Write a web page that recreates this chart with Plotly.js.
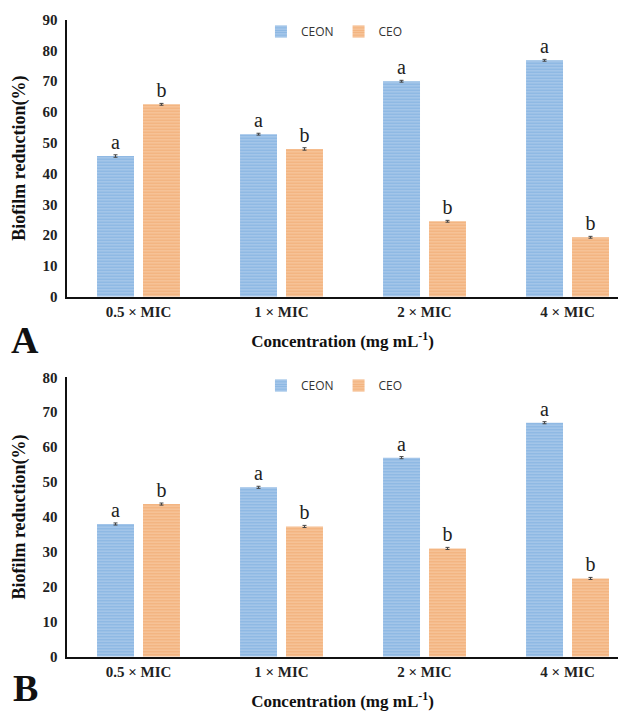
<!DOCTYPE html>
<html>
<head>
<meta charset="utf-8">
<script src="https://cdn.plot.ly/plotly-3.0.1.min.js"></script>
<style>html,body{margin:0;padding:0;background:#fff;}#chart{width:618px;height:713px;}</style>
</head>
<body>
<div id="chart"></div>
<script>
const categories = ["0.5 × MIC", "1 × MIC", "2 × MIC", "4 × MIC"];
const ceonA = [45.7, 52.8, 70.0, 76.8];
const ceoA  = [62.5, 48.0, 24.5, 19.3];
const ceonAErr = [0.4, 0.3, 0.3, 0.3];
const ceoAErr  = [0.3, 0.4, 0.3, 0.3];
const ceonB = [38.0, 48.5, 57.0, 67.0];
const ceoB  = [43.7, 37.3, 31.0, 22.4];
const ceonBErr = [0.3, 0.3, 0.3, 0.3];
const ceoBErr  = [0.3, 0.3, 0.3, 0.3];
const ceonLetters = ["a", "a", "a", "a"];
const ceoLetters  = ["b", "b", "b", "b"];

const serif = "Liberation Serif, Times New Roman, serif";
const blue = {bg: "#b0cdec", fg: "#5b9bd5"};
const orange = {bg: "#f8cba3", fg: "#ec9350"};

function bar(name, y, err, letters, col, xa, ya, legend, show) {
  return {
    type: "bar", name: name, x: categories, y: y,
    xaxis: xa, yaxis: ya, legend: legend, showlegend: show,
    text: letters, textposition: "outside", cliponaxis: false,
    textfont: {family: serif, size: 20, color: "#222"},
    marker: {color: col.bg, line: {width: 0},
      pattern: {shape: "-", fgcolor: col.fg, bgcolor: col.bg, size: 3, solidity: 0.55, fillmode: "overlay"}},
    error_y: {type: "data", array: err, visible: true, color: "#444", thickness: 1, width: 2}
  };
}

const data = [
  bar("CEON", ceonA, ceonAErr, ceonLetters, blue, "x", "y", "legend", true),
  bar("CEO", ceoA, ceoAErr, ceoLetters, orange, "x", "y", "legend", true),
  bar("CEON", ceonB, ceonBErr, ceonLetters, blue, "x2", "y2", "legend2", true),
  bar("CEO", ceoB, ceoBErr, ceoLetters, orange, "x2", "y2", "legend2", true)
];

const tickF = {family: serif, size: 15, color: "#222", weight: "bold"};
const titleF = {family: serif, size: 17, color: "#111", weight: "bold"};
const xCommon = {
  type: "category", range: [-0.5, 3.353], showline: true, linecolor: "#111", linewidth: 2.5,
  ticks: "", showgrid: false, zeroline: false, tickfont: tickF, fixedrange: true, automargin: false
};
const yCommon = {
  showline: true, linecolor: "#111", linewidth: 2.5, ticks: "", showgrid: false, zeroline: false, automargin: false,
  tickfont: tickF, dtick: 10, ticklabelstandoff: 4,
  title: {text: "Biofilm reduction(%)", font: {family: serif, size: 18, color: "#111", weight: "bold"}, standoff: 12}
};

const layout = {
  width: 618, height: 713,
  margin: {l: 67, r: 0, t: 0, b: 0, autoexpand: false},
  paper_bgcolor: "#fff", plot_bgcolor: "#fff",
  barmode: "group", bargap: 0.357, bargroupgap: 0.196,
  xaxis: Object.assign({}, xCommon, {anchor: "y", title: {text: "Concentration (mg mL<sup>-1</sup>)", font: titleF, standoff: 16}}),
  yaxis: Object.assign({}, yCommon, {domain: [0.5839, 0.9724], range: [0, 90], anchor: "x"}),
  xaxis2: Object.assign({}, xCommon, {anchor: "y2", title: {text: "Concentration (mg mL<sup>-1</sup>)", font: titleF, standoff: 16}}),
  yaxis2: Object.assign({}, yCommon, {domain: [0.0790, 0.4708], range: [0, 80], anchor: "x2"}),
  legend: {orientation: "h", xref: "paper", yref: "paper", x: 0.352, xanchor: "left", y: 1 - 17/713, yanchor: "top",
    font: {family: "Open Sans, sans-serif", size: 12, color: "#333"}, itemwidth: 30, traceorder: "normal", bgcolor: "rgba(0,0,0,0)"},
  legend2: {orientation: "h", xref: "paper", yref: "paper", x: 0.352, xanchor: "left", y: 1 - 371/713, yanchor: "top",
    font: {family: "Open Sans, sans-serif", size: 12, color: "#333"}, itemwidth: 30, traceorder: "normal", bgcolor: "rgba(0,0,0,0)"},
  annotations: [
    {text: "<b>A</b>", xref: "paper", yref: "paper", x: -0.076, y: 1 - 340/713, xanchor: "center", yanchor: "middle", showarrow: false,
      font: {family: serif, size: 38, color: "#111"}},
    {text: "<b>B</b>", xref: "paper", yref: "paper", x: -0.076, y: 1 - 688/713, xanchor: "center", yanchor: "middle", showarrow: false,
      font: {family: serif, size: 38, color: "#111"}}
  ]
};

Plotly.newPlot("chart", data, layout, {displayModeBar: false, staticPlot: true});
</script>
</body>
</html>
